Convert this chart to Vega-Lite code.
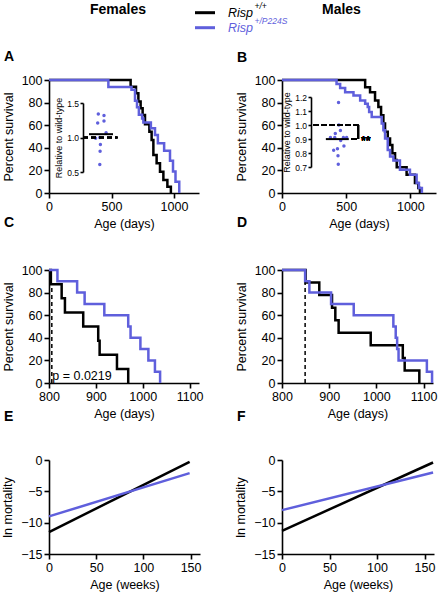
{
  "$schema": "https://vega.github.io/schema/vega-lite/v6.json",
  "padding": {"left": 1, "top": 2, "right": 2, "bottom": 2},
  "background": "white",
  "bounds": "flush",
  "columns": 2,
  "spacing": {"row": 77, "column": 82},
  "config": {
    "font": "Liberation Sans",
    "view": {"stroke": null},
    "axis": {"grid": false, "domainColor": "black", "tickColor": "black", "domainWidth": 1.6, "tickWidth": 1.6, "tickSize": 5, "labelFontSize": 12.5, "titleFontSize": 12.5, "labelColor": "black", "titleColor": "black", "titleFontWeight": "normal", "labelPadding": 2, "labelFlush": false, "labelOverlap": false},
    "axisX": {"titlePadding": 5},
    "axisY": {"titlePadding": 6},
    "title": {"anchor": "start", "frame": "group", "fontSize": 14, "fontWeight": "bold", "dx": -45, "dy": -24, "offset": 10, "color": "black"}
  },
  "datasets": {
    "legend": [
      {"g": "+/+", "base": "Risp", "sup": "+/+"},
      {"g": "+/P224S", "base": "Risp", "sup": "+/P224S"}
    ],
    "survA": [
      {"g": "+/+", "age": 0, "pct": 100}, {"g": "+/+", "age": 653, "pct": 94.1}, {"g": "+/+", "age": 696, "pct": 88.2}, {"g": "+/+", "age": 715, "pct": 81}, {"g": "+/+", "age": 733, "pct": 75}, {"g": "+/+", "age": 749, "pct": 69}, {"g": "+/+", "age": 768, "pct": 60.8}, {"g": "+/+", "age": 803, "pct": 54.3}, {"g": "+/+", "age": 821, "pct": 47}, {"g": "+/+", "age": 835, "pct": 33.6}, {"g": "+/+", "age": 861, "pct": 26.3}, {"g": "+/+", "age": 888, "pct": 18.9}, {"g": "+/+", "age": 915, "pct": 11.5}, {"g": "+/+", "age": 947, "pct": 5.6}, {"g": "+/+", "age": 975, "pct": 0},
      {"g": "+/P224S", "age": 0, "pct": 100}, {"g": "+/P224S", "age": 475, "pct": 93.8}, {"g": "+/P224S", "age": 660, "pct": 91.3}, {"g": "+/P224S", "age": 688, "pct": 81.7}, {"g": "+/P224S", "age": 704, "pct": 75.8}, {"g": "+/P224S", "age": 719, "pct": 69.2}, {"g": "+/P224S", "age": 745, "pct": 66}, {"g": "+/P224S", "age": 755, "pct": 62.5}, {"g": "+/P224S", "age": 815, "pct": 57.3}, {"g": "+/P224S", "age": 848, "pct": 51.4}, {"g": "+/P224S", "age": 871, "pct": 44}, {"g": "+/P224S", "age": 921, "pct": 37.5}, {"g": "+/P224S", "age": 968, "pct": 28.6}, {"g": "+/P224S", "age": 992, "pct": 19}, {"g": "+/P224S", "age": 1012, "pct": 10}, {"g": "+/P224S", "age": 1042, "pct": 0}
    ],
    "survB": [
      {"g": "+/+", "age": 0, "pct": 100}, {"g": "+/+", "age": 648, "pct": 93.6}, {"g": "+/+", "age": 686, "pct": 89.2}, {"g": "+/+", "age": 725, "pct": 81.9}, {"g": "+/+", "age": 751, "pct": 76}, {"g": "+/+", "age": 772, "pct": 68.7}, {"g": "+/+", "age": 790, "pct": 61.4}, {"g": "+/+", "age": 803, "pct": 54.1}, {"g": "+/+", "age": 824, "pct": 48.2}, {"g": "+/+", "age": 842, "pct": 42.4}, {"g": "+/+", "age": 860, "pct": 35.1}, {"g": "+/+", "age": 881, "pct": 29.2}, {"g": "+/+", "age": 894, "pct": 22.8}, {"g": "+/+", "age": 971, "pct": 16.1}, {"g": "+/+", "age": 1036, "pct": 8.8}, {"g": "+/+", "age": 1062, "pct": 4.4}, {"g": "+/+", "age": 1075, "pct": 0},
      {"g": "+/P224S", "age": 0, "pct": 100}, {"g": "+/P224S", "age": 425, "pct": 96.5}, {"g": "+/P224S", "age": 453, "pct": 93}, {"g": "+/P224S", "age": 492, "pct": 89.2}, {"g": "+/P224S", "age": 557, "pct": 86.3}, {"g": "+/P224S", "age": 609, "pct": 81.9}, {"g": "+/P224S", "age": 648, "pct": 78.9}, {"g": "+/P224S", "age": 668, "pct": 76}, {"g": "+/P224S", "age": 679, "pct": 71.6}, {"g": "+/P224S", "age": 699, "pct": 67.3}, {"g": "+/P224S", "age": 777, "pct": 61.4}, {"g": "+/P224S", "age": 790, "pct": 55.6}, {"g": "+/P224S", "age": 803, "pct": 48.2}, {"g": "+/P224S", "age": 824, "pct": 38}, {"g": "+/P224S", "age": 842, "pct": 32.2}, {"g": "+/P224S", "age": 868, "pct": 28.7}, {"g": "+/P224S", "age": 919, "pct": 20.5}, {"g": "+/P224S", "age": 997, "pct": 16.1}, {"g": "+/P224S", "age": 1049, "pct": 8.8}, {"g": "+/P224S", "age": 1067, "pct": 4.4}, {"g": "+/P224S", "age": 1090, "pct": 0}
    ],
    "survC": [
      {"g": "+/+", "age": 800, "pct": 100}, {"g": "+/+", "age": 804, "pct": 87.5}, {"g": "+/+", "age": 827, "pct": 75}, {"g": "+/+", "age": 834, "pct": 62.5}, {"g": "+/+", "age": 873, "pct": 50}, {"g": "+/+", "age": 905, "pct": 37.5}, {"g": "+/+", "age": 908, "pct": 25}, {"g": "+/+", "age": 945, "pct": 12.5}, {"g": "+/+", "age": 969, "pct": 0},
      {"g": "+/P224S", "age": 800, "pct": 100}, {"g": "+/P224S", "age": 818, "pct": 90}, {"g": "+/P224S", "age": 860, "pct": 80}, {"g": "+/P224S", "age": 876, "pct": 70}, {"g": "+/P224S", "age": 918, "pct": 60}, {"g": "+/P224S", "age": 969, "pct": 50}, {"g": "+/P224S", "age": 974, "pct": 40}, {"g": "+/P224S", "age": 995, "pct": 30}, {"g": "+/P224S", "age": 1012, "pct": 20}, {"g": "+/P224S", "age": 1026, "pct": 10}, {"g": "+/P224S", "age": 1037, "pct": 0}
    ],
    "survD": [
      {"g": "+/+", "age": 800, "pct": 100}, {"g": "+/+", "age": 850, "pct": 88.9}, {"g": "+/+", "age": 879, "pct": 77.8}, {"g": "+/+", "age": 906, "pct": 66.7}, {"g": "+/+", "age": 913, "pct": 55.6}, {"g": "+/+", "age": 920, "pct": 44.4}, {"g": "+/+", "age": 988, "pct": 33.3}, {"g": "+/+", "age": 1056, "pct": 22.2}, {"g": "+/+", "age": 1060, "pct": 11.1}, {"g": "+/+", "age": 1091, "pct": 0},
      {"g": "+/P224S", "age": 800, "pct": 100}, {"g": "+/P224S", "age": 849, "pct": 90}, {"g": "+/P224S", "age": 858, "pct": 80}, {"g": "+/P224S", "age": 904, "pct": 70}, {"g": "+/P224S", "age": 952, "pct": 60}, {"g": "+/P224S", "age": 1036, "pct": 50}, {"g": "+/P224S", "age": 1041, "pct": 40}, {"g": "+/P224S", "age": 1044, "pct": 30}, {"g": "+/P224S", "age": 1047, "pct": 20}, {"g": "+/P224S", "age": 1107, "pct": 10}, {"g": "+/P224S", "age": 1118, "pct": 0}
    ],
    "insetA": [
      {"rel": 1.34, "slot": -0.9}, {"rel": 1.32, "slot": 1}, {"rel": 1.21, "slot": -1.1}, {"rel": 1.24, "slot": 1}, {"rel": 1.07, "slot": 1.7}, {"rel": 1.0, "slot": -0.4}, {"rel": 0.99, "slot": -1.8}, {"rel": 0.9, "slot": -0.2}, {"rel": 0.8, "slot": -0.3}, {"rel": 0.61, "slot": -0.4}
    ],
    "insetB": [
      {"rel": 1.16, "slot": 0.2}, {"rel": 1.0, "slot": 0.3}, {"rel": 0.96, "slot": 0.9}, {"rel": 0.94, "slot": -1}, {"rel": 0.91, "slot": -2.8}, {"rel": 0.91, "slot": -1.2}, {"rel": 0.91, "slot": 2}, {"rel": 0.91, "slot": 3.2}, {"rel": 0.89, "slot": 1}, {"rel": 0.85, "slot": 2.2}, {"rel": 0.83, "slot": -0.2}, {"rel": 0.82, "slot": -1.6}, {"rel": 0.78, "slot": 0}, {"rel": 0.72, "slot": 0.1}
    ],
    "mortE": [
      {"g": "+/+", "week": 0, "ln": -11.5}, {"g": "+/+", "week": 149, "ln": -0.3},
      {"g": "+/P224S", "week": 0, "ln": -9.0}, {"g": "+/P224S", "week": 149, "ln": -2.1}
    ],
    "mortF": [
      {"g": "+/+", "week": 0, "ln": -11.3}, {"g": "+/+", "week": 159, "ln": -0.4},
      {"g": "+/P224S", "week": 0, "ln": -8.0}, {"g": "+/P224S", "week": 159, "ln": -2.0}
    ]
  },
  "concat": [
    {
      "title": {"text": "A", "dy": 72},
      "width": 150,
      "height": 113,
      "layer": [
        {
          "data": {"name": "survA"},
          "mark": {"type": "line", "interpolate": "step-after", "strokeWidth": 2.5},
          "encoding": {
            "x": {"field": "age", "type": "quantitative", "scale": {"domain": [0, 1200], "nice": false}, "axis": {"values": [0, 500, 1000], "format": "d", "title": "Age (days)"}},
            "y": {"field": "pct", "type": "quantitative", "scale": {"domain": [0, 100]}, "axis": {"values": [0, 20, 40, 60, 80, 100], "labelOverlap": false, "title": "Percent survival"}},
            "color": {"field": "g", "type": "nominal", "scale": {"domain": ["+/+", "+/P224S"], "range": ["black", "#5f5fdc"]}, "legend": null}
          }
        },
        {
          "data": {"name": "insetA"},
          "layer": [
            {
              "mark": {"type": "circle", "size": 12, "color": "#5f5fdc", "opacity": 1},
              "encoding": {
                "x": {"field": "slot", "type": "quantitative", "scale": {"domain": [-6, 6], "range": [34, 70]}, "axis": null},
                "y": {"field": "rel", "type": "quantitative", "scale": {"domain": [0.5, 1.5], "range": [92, 23]}, "axis": {"orient": "left", "offset": -34, "values": [0.5, 1, 1.5], "format": ".1f", "labelOverlap": false, "title": "Relative to wild-type", "labelFontSize": 8.5, "titleFontSize": 9, "tickSize": 3, "labelPadding": 1.5, "titlePadding": 3}}
              }
            },
            {
              "mark": {"type": "rule", "strokeWidth": 2, "color": "black"},
              "encoding": {
                "x": {"datum": -4, "type": "quantitative"},
                "x2": {"datum": 4},
                "y": {"aggregate": "mean", "field": "rel", "type": "quantitative", "axis": {"orient": "left", "offset": -34, "values": [0.5, 1, 1.5], "format": ".1f", "labelOverlap": false, "title": "Relative to wild-type", "labelFontSize": 8.5, "titleFontSize": 9, "tickSize": 3, "labelPadding": 1.5, "titlePadding": 3}}
              }
            },
            {
              "mark": {"type": "rule", "strokeWidth": 1.6, "color": "black", "strokeDash": [5, 3]},
              "encoding": {
                "x": {"datum": -6, "type": "quantitative"},
                "x2": {"datum": 5.5},
                "y": {"datum": 1, "type": "quantitative", "axis": {"orient": "left", "offset": -34, "values": [0.5, 1, 1.5], "format": ".1f", "labelOverlap": false, "title": "Relative to wild-type", "labelFontSize": 8.5, "titleFontSize": 9, "tickSize": 3, "labelPadding": 1.5, "titlePadding": 3}}
              }
            }
          ]
        },
        {
          "data": {"name": "legend"},
          "layer": [
            {
              "mark": {"type": "rule", "strokeWidth": 3},
              "encoding": {
                "x": {"datum": 0.9733, "type": "quantitative", "scale": {"domain": [0, 1], "nice": false}, "axis": null},
                "x2": {"datum": 1.1067},
                "y": {"field": "g", "type": "nominal", "scale": {"type": "point", "domain": ["+/+", "+/P224S"], "range": [-67.3, -52.3], "padding": 0}, "axis": null},
                "color": {"field": "g", "type": "nominal", "legend": null}
              }
            },
            {
              "mark": {"type": "text", "align": "left", "baseline": "alphabetic", "dy": 4, "fontSize": 12.5, "fontStyle": "italic"},
              "encoding": {
                "x": {"datum": 1.1933, "type": "quantitative"},
                "y": {"field": "g", "type": "nominal"},
                "text": {"field": "base"},
                "color": {"field": "g", "type": "nominal", "legend": null}
              }
            },
            {
              "mark": {"type": "text", "align": "left", "baseline": "alphabetic", "dx": 26.5, "dy": -3.5, "fontSize": 8.5, "fontStyle": "italic"},
              "encoding": {
                "x": {"datum": 1.1933, "type": "quantitative"},
                "y": {"field": "g", "type": "nominal"},
                "text": {"field": "sup"},
                "color": {"field": "g", "type": "nominal", "legend": null}
              }
            },
            {
              "data": {"values": [{}]},
              "mark": {"type": "text", "align": "center", "baseline": "middle", "dy": -3, "fontSize": 14, "fontWeight": "bold", "color": "black"},
              "encoding": {
                "x": {"datum": 0.46, "type": "quantitative"},
                "y": {"datum": "+/+", "type": "nominal"},
                "text": {"value": "Females"}
              }
            }
          ]
        }
      ],
      "resolve": {"scale": {"x": "independent", "y": "independent"}}
    },
    {
      "title": {"text": "B", "dy": 72},
      "width": 154,
      "height": 113,
      "layer": [
        {
          "data": {"name": "survB"},
          "mark": {"type": "line", "interpolate": "step-after", "strokeWidth": 2.5},
          "encoding": {
            "x": {"field": "age", "type": "quantitative", "scale": {"domain": [0, 1200], "nice": false}, "axis": {"values": [0, 500, 1000], "format": "d", "title": "Age (days)"}},
            "y": {"field": "pct", "type": "quantitative", "scale": {"domain": [0, 100]}, "axis": {"values": [0, 20, 40, 60, 80, 100], "labelOverlap": false, "title": "Percent survival"}},
            "color": {"field": "g", "type": "nominal", "scale": {"domain": ["+/+", "+/P224S"], "range": ["black", "#5f5fdc"]}, "legend": null}
          }
        },
        {
          "data": {"name": "insetB"},
          "layer": [
            {
              "mark": {"type": "circle", "size": 12, "color": "#5f5fdc", "opacity": 1},
              "encoding": {
                "x": {"field": "slot", "type": "quantitative", "scale": {"domain": [-9, 9], "range": [29, 83]}, "axis": null},
                "y": {"field": "rel", "type": "quantitative", "scale": {"domain": [0.7, 1.2], "range": [87, 17]}, "axis": {"orient": "left", "offset": -29, "values": [0.7, 0.8, 0.9, 1.0, 1.1, 1.2], "format": ".1f", "labelOverlap": false, "title": "Relative to wild-type", "labelFontSize": 8.5, "titleFontSize": 9, "tickSize": 3, "labelPadding": 1.5, "titlePadding": 3}}
              }
            },
            {
              "mark": {"type": "rule", "strokeWidth": 2, "color": "black"},
              "encoding": {
                "x": {"datum": -4.5, "type": "quantitative"},
                "x2": {"datum": 4},
                "y": {"aggregate": "mean", "field": "rel", "type": "quantitative", "axis": {"orient": "left", "offset": -29, "values": [0.7, 0.8, 0.9, 1.0, 1.1, 1.2], "format": ".1f", "labelOverlap": false, "title": "Relative to wild-type", "labelFontSize": 8.5, "titleFontSize": 9, "tickSize": 3, "labelPadding": 1.5, "titlePadding": 3}}
              }
            },
            {
              "mark": {"type": "rule", "strokeWidth": 1.6, "color": "black", "strokeDash": [5, 3]},
              "encoding": {
                "x": {"datum": -9, "type": "quantitative"},
                "x2": {"datum": 7.5},
                "y": {"datum": 1, "type": "quantitative", "axis": {"orient": "left", "offset": -29, "values": [0.7, 0.8, 0.9, 1.0, 1.1, 1.2], "format": ".1f", "labelOverlap": false, "title": "Relative to wild-type", "labelFontSize": 8.5, "titleFontSize": 9, "tickSize": 3, "labelPadding": 1.5, "titlePadding": 3}}
              }
            },
            {
              "mark": {"type": "rule", "strokeWidth": 1.6, "color": "black"},
              "encoding": {
                "x": {"datum": 7.5, "type": "quantitative"},
                "y": {"datum": 0.9, "type": "quantitative", "axis": {"orient": "left", "offset": -29, "values": [0.7, 0.8, 0.9, 1.0, 1.1, 1.2], "format": ".1f", "labelOverlap": false, "title": "Relative to wild-type", "labelFontSize": 8.5, "titleFontSize": 9, "tickSize": 3, "labelPadding": 1.5, "titlePadding": 3}},
                "y2": {"datum": 1.0}
              }
            },
            {
              "mark": {"type": "rule", "strokeWidth": 1.6, "color": "black", "strokeDash": [5, 3]},
              "encoding": {
                "x": {"datum": 5, "type": "quantitative"},
                "x2": {"datum": 7.5},
                "y": {"datum": 0.9, "type": "quantitative", "axis": {"orient": "left", "offset": -29, "values": [0.7, 0.8, 0.9, 1.0, 1.1, 1.2], "format": ".1f", "labelOverlap": false, "title": "Relative to wild-type", "labelFontSize": 8.5, "titleFontSize": 9, "tickSize": 3, "labelPadding": 1.5, "titlePadding": 3}}
              }
            },
            {
              "mark": {"type": "text", "align": "left", "baseline": "alphabetic", "fontSize": 12.5, "color": "black"},
              "encoding": {
                "x": {"datum": 8.5, "type": "quantitative"},
                "y": {"datum": 0.86, "type": "quantitative", "axis": {"orient": "left", "offset": -29, "values": [0.7, 0.8, 0.9, 1.0, 1.1, 1.2], "format": ".1f", "labelOverlap": false, "title": "Relative to wild-type", "labelFontSize": 8.5, "titleFontSize": 9, "tickSize": 3, "labelPadding": 1.5, "titlePadding": 3}},
                "text": {"value": "**"}
              }
            }
          ]
        },
        {
          "data": {"values": [{}]},
          "mark": {"type": "text", "align": "center", "baseline": "middle", "dy": -3, "fontSize": 14, "fontWeight": "bold", "color": "black"},
          "encoding": {
            "x": {"datum": 0.386, "type": "quantitative", "scale": {"domain": [0, 1], "nice": false}, "axis": null},
            "y": {"datum": "+/+", "type": "nominal", "scale": {"type": "point", "domain": ["+/+", "+/P224S"], "range": [-67.3, -52.3], "padding": 0}, "axis": null},
            "text": {"value": "Males"}
          }
        }
      ],
      "resolve": {"scale": {"x": "independent", "y": "independent"}}
    },
    {
      "title": "C",
      "width": 150,
      "height": 113,
      "layer": [
        {
          "data": {"name": "survC"},
          "mark": {"type": "line", "interpolate": "step-after", "strokeWidth": 2.5},
          "encoding": {
            "x": {"field": "age", "type": "quantitative", "scale": {"domain": [800, 1120], "nice": false}, "axis": {"values": [800, 900, 1000, 1100], "format": "d", "title": "Age (days)"}},
            "y": {"field": "pct", "type": "quantitative", "scale": {"domain": [0, 100]}, "axis": {"values": [0, 20, 40, 60, 80, 100], "labelOverlap": false, "title": "Percent survival"}},
            "color": {"field": "g", "type": "nominal", "scale": {"domain": ["+/+", "+/P224S"], "range": ["black", "#5f5fdc"]}, "legend": null}
          }
        },
        {
          "data": {"values": [{}]},
          "mark": {"type": "rule", "strokeWidth": 1.5, "color": "black", "strokeDash": [4, 3]},
          "encoding": {
            "x": {"datum": 806, "type": "quantitative", "axis": {"values": [800, 900, 1000, 1100], "format": "d", "title": "Age (days)"}},
            "y": {"datum": 0, "type": "quantitative", "axis": {"values": [0, 20, 40, 60, 80, 100], "labelOverlap": false, "title": "Percent survival"}},
            "y2": {"datum": 88}
          }
        },
        {
          "data": {"values": [{}]},
          "mark": {"type": "text", "align": "left", "baseline": "alphabetic", "fontSize": 12.5, "color": "black"},
          "encoding": {
            "x": {"datum": 807, "type": "quantitative", "axis": {"values": [800, 900, 1000, 1100], "format": "d", "title": "Age (days)"}},
            "y": {"datum": 2.6, "type": "quantitative", "axis": {"values": [0, 20, 40, 60, 80, 100], "labelOverlap": false, "title": "Percent survival"}},
            "text": {"value": "p = 0.0219"}
          }
        }
      ]
    },
    {
      "title": "D",
      "width": 151,
      "height": 113,
      "layer": [
        {
          "data": {"name": "survD"},
          "mark": {"type": "line", "interpolate": "step-after", "strokeWidth": 2.5},
          "encoding": {
            "x": {"field": "age", "type": "quantitative", "scale": {"domain": [800, 1120], "nice": false}, "axis": {"values": [800, 900, 1000, 1100], "format": "d", "title": "Age (days)"}},
            "y": {"field": "pct", "type": "quantitative", "scale": {"domain": [0, 100]}, "axis": {"values": [0, 20, 40, 60, 80, 100], "labelOverlap": false, "title": "Percent survival"}},
            "color": {"field": "g", "type": "nominal", "scale": {"domain": ["+/+", "+/P224S"], "range": ["black", "#5f5fdc"]}, "legend": null}
          }
        },
        {
          "data": {"values": [{}]},
          "mark": {"type": "rule", "strokeWidth": 1.5, "color": "black", "strokeDash": [4, 3]},
          "encoding": {
            "x": {"datum": 849, "type": "quantitative", "axis": {"values": [800, 900, 1000, 1100], "format": "d", "title": "Age (days)"}},
            "y": {"datum": 0, "type": "quantitative", "axis": {"values": [0, 20, 40, 60, 80, 100], "labelOverlap": false, "title": "Percent survival"}},
            "y2": {"datum": 89}
          }
        }
      ]
    },
    {
      "title": {"text": "E", "dy": -20},
      "width": 151,
      "height": 94,
      "data": {"name": "mortE"},
      "mark": {"type": "line", "strokeWidth": 2.5},
      "encoding": {
        "x": {"field": "week", "type": "quantitative", "scale": {"domain": [0, 160], "nice": false}, "axis": {"values": [0, 50, 100, 150], "title": "Age (weeks)"}},
        "y": {"field": "ln", "type": "quantitative", "scale": {"domain": [-15, 0]}, "axis": {"values": [-15, -10, -5, 0], "title": "ln mortality"}},
        "color": {"field": "g", "type": "nominal", "scale": {"domain": ["+/+", "+/P224S"], "range": ["black", "#5f5fdc"]}, "legend": null}
      }
    },
    {
      "title": {"text": "F", "dy": -20},
      "width": 152,
      "height": 94,
      "data": {"name": "mortF"},
      "mark": {"type": "line", "strokeWidth": 2.5},
      "encoding": {
        "x": {"field": "week", "type": "quantitative", "scale": {"domain": [0, 160], "nice": false}, "axis": {"values": [0, 50, 100, 150], "title": "Age (weeks)"}},
        "y": {"field": "ln", "type": "quantitative", "scale": {"domain": [-15, 0]}, "axis": {"values": [-15, -10, -5, 0], "title": "ln mortality"}},
        "color": {"field": "g", "type": "nominal", "scale": {"domain": ["+/+", "+/P224S"], "range": ["black", "#5f5fdc"]}, "legend": null}
      }
    }
  ]
}
